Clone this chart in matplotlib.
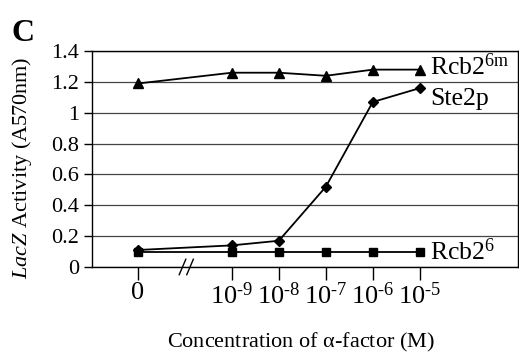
import numpy as np
import matplotlib
matplotlib.use("Agg")
import matplotlib.pyplot as plt

plt.rcParams["font.family"] = ["Liberation Serif", "DejaVu Serif"]
plt.rcParams["mathtext.fontset"] = "custom"
plt.rcParams["mathtext.rm"] = "Liberation Serif"
plt.rcParams["mathtext.it"] = "Liberation Serif:italic"

# data
conc_exp = ["", "-9", "-8", "-7", "-6", "-5"]
conc_pos = [0, 2, 3, 4, 5, 6]   # gap after 0 (axis break)
rcb2_6m = [1.19, 1.26, 1.26, 1.24, 1.28, 1.28]
ste2p = [0.11, 0.14, 0.17, 0.52, 1.07, 1.16]
rcb2_6 = [0.10, 0.10, 0.10, 0.10, 0.10, 0.10]

fig = plt.figure(figsize=(5.19, 3.55), dpi=100)
ax = fig.add_axes([0.177, 0.248, 0.821, 0.608])

ax.plot(conc_pos, rcb2_6m, color="black", lw=1.3, marker="^", ms=7)
ax.plot(conc_pos, ste2p, color="black", lw=1.3, marker="D", ms=5.5)
ax.plot(conc_pos, rcb2_6, color="black", lw=1.3, marker="s", ms=6)

ax.text(6.22, rcb2_6m[-1] + 0.02, r"Rcb2$^{\mathregular{6m}}$", fontsize=18.5,
        va="center", ha="left")
ax.text(6.22, ste2p[-1] - 0.07, "Ste2p", fontsize=18.5, va="center", ha="left")
ax.text(6.22, rcb2_6[-1], r"Rcb2$^{\mathregular{6}}$", fontsize=18.5,
        va="center", ha="left")

ax.set_xlim(-0.98, 8.09)
ax.set_ylim(0, 1.4)
ax.set_yticks(np.arange(0, 1.41, 0.2))
ax.set_yticklabels(["0", "0.2", "0.4", "0.6", "0.8", "1", "1.2", "1.4"])
ax.set_xticks(conc_pos)
xlabels = ["0"] + [rf"10$^{{\mathregular{{{e.replace('-', '‐')}}}}}$"
                   for e in conc_exp[1:]]
ax.set_xticklabels(xlabels)
ax.tick_params(axis="both", direction="out", color="black")
ax.tick_params(axis="y", length=6, width=1, pad=3, labelsize=16)
ax.tick_params(axis="x", length=9, width=1, pad=2, labelsize=19)
ax.yaxis.grid(True, color="#444444", lw=0.9)
ax.set_axisbelow(True)
for sp in ax.spines.values():
    sp.set_linewidth(1.0)
    sp.set_color("black")

# axis break marks
for xb in [0.95, 1.11]:
    ax.plot([xb - 0.07, xb + 0.07], [-0.05, 0.05], color="black", lw=1.0,
            clip_on=False)

ax.set_ylabel(r"$\it{LacZ}$ Activity (A570nm)", fontsize=16)
ax.yaxis.set_label_coords(-0.135, 0.46)
fig.text(0.58, 0.035, r"Concentration of $\mathregular{\alpha}$-factor (M)",
         fontsize=16, ha="center", va="center")
fig.text(0.023, 0.905, "C", fontsize=23, fontweight="bold", ha="left",
         va="center")

fig.savefig("out.png", dpi=100)
